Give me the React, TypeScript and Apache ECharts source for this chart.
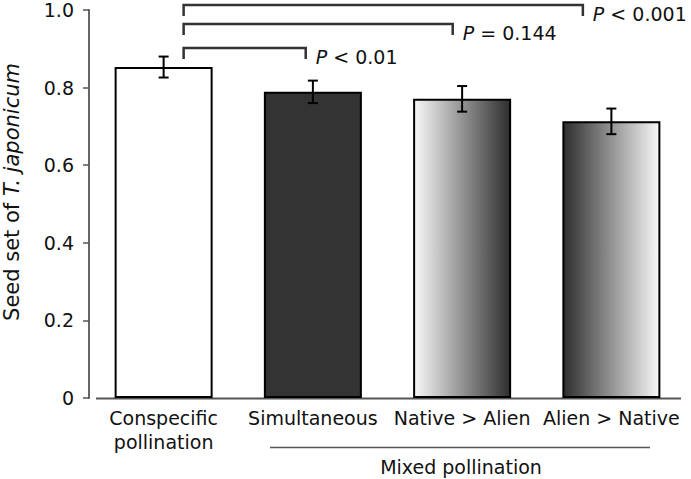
import React, { useEffect, useRef } from "react";
import * as echarts from "echarts";

const categories = ["Conspecific\npollination", "Simultaneous", "Native > Alien", "Alien > Native"];
const seedSet = [0.853, 0.789, 0.771, 0.713];
const seErr = [0.027, 0.029, 0.033, 0.033];

// significance brackets (x in category units, y in data units)
const bracketFrom = [0.134, 0.134, 0.134];
const bracketTo = [0.952, 1.937, 2.809];
const bracketY = [0.902, 0.964, 1.013];
const pTexts = ["< 0.01", "= 0.144", "< 0.001"];

const FONT = "DejaVu Sans";

function barFill(i: number): any {
  if (i === 0) return "#ffffff";
  if (i === 1) return "#333333";
  const light = "#f8f8f8";
  const dark = "#2e2e2e";
  const stops =
    i === 2
      ? [{ offset: 0, color: light }, { offset: 1, color: dark }]
      : [{ offset: 0, color: dark }, { offset: 1, color: light }];
  return new echarts.graphic.LinearGradient(0, 0, 1, 0, stops);
}

export default function App() {
  const ref = useRef<HTMLDivElement>(null);
  useEffect(() => {
    if (!ref.current) return;
    const chart = echarts.init(ref.current, null, { renderer: "svg" });
    const option: any = {
      animation: false,
      backgroundColor: "#fff",
      grid: { left: 89, right: 5, top: 10, bottom: 81, containLabel: false },
      xAxis: [
        {
          type: "category",
          data: categories,
          axisLine: { show: false },
          axisTick: { show: false },
          axisLabel: {
            interval: 0,
            margin: 8,
            fontFamily: FONT,
            fontSize: 19,
            lineHeight: 24,
            color: "#111",
          },
        },
        { type: "value", min: -0.5, max: 3.5, show: false },
      ],
      yAxis: {
        type: "value",
        min: 0,
        max: 1,
        interval: 0.2,
        axisLine: { show: true, onZero: false, lineStyle: { color: "#555", width: 1.8 } },
        axisTick: { show: true, length: 6, lineStyle: { color: "#555", width: 1.5 } },
        splitLine: { show: false },
        axisLabel: {
          margin: 15,
          fontFamily: FONT,
          fontSize: 19,
          color: "#111",
          formatter: (v: number) => (v === 0 ? "0" : v.toFixed(1)),
        },
      },
      series: [
        {
          type: "bar",
          barWidth: 98,
          data: seedSet.map((v, i) => ({
            value: v,
            itemStyle: { color: barFill(i), borderColor: "#000", borderWidth: 2 },
          })),
        },
        {
          type: "custom",
          xAxisIndex: 0,
          clip: false,
          data: seedSet.map((v, i) => [i, v - seErr[i], v + seErr[i]]),
          renderItem: (params: any, api: any) => {
            const lo = api.coord([api.value(0), api.value(1)]);
            const hi = api.coord([api.value(0), api.value(2)]);
            const x = lo[0];
            const w = 5;
            return {
              type: "group",
              children: [
                { type: "line", shape: { x1: x, y1: lo[1], x2: x, y2: hi[1] }, style: { stroke: "#000", lineWidth: 2 } },
                { type: "line", shape: { x1: x - w, y1: lo[1], x2: x + w, y2: lo[1] }, style: { stroke: "#000", lineWidth: 2 } },
                { type: "line", shape: { x1: x - w, y1: hi[1], x2: x + w, y2: hi[1] }, style: { stroke: "#000", lineWidth: 2 } },
              ],
            };
          },
          z: 5,
        },
        {
          type: "custom",
          xAxisIndex: 1,
          clip: false,
          data: bracketFrom.map((f, i) => [f, bracketTo[i], bracketY[i]]),
          renderItem: (params: any, api: any) => {
            const p1 = api.coord([api.value(0), api.value(2)]);
            const p2 = api.coord([api.value(1), api.value(2)]);
            const drop = 11;
            return {
              type: "group",
              children: [
                {
                  type: "polyline",
                  shape: {
                    points: [
                      [p1[0], p1[1] + drop],
                      [p1[0], p1[1]],
                      [p2[0], p2[1]],
                      [p2[0], p2[1] + drop],
                    ],
                  },
                  style: { stroke: "#333", lineWidth: 2.5, fill: null },
                },
                {
                  type: "text",
                  x: p2[0] + 10,
                  y: p2[1] + 9,
                  style: {
                    text: "{p|P} " + pTexts[params.dataIndex],
                    fontFamily: FONT,
                    fontSize: 19,
                    fill: "#111",
                    verticalAlign: "middle",
                    align: "left",
                    rich: { p: { fontStyle: "italic", fontFamily: FONT, fontSize: 19, fill: "#111" } },
                  },
                },
              ],
            };
          },
          z: 6,
        },
      ],
      graphic: [
        {
          type: "line",
          shape: { x1: 96, y1: 398.5, x2: 681, y2: 398.5 },
          style: { stroke: "#555", lineWidth: 1.8 },
        },
        {
          type: "line",
          shape: { x1: 270, y1: 447.5, x2: 650, y2: 447.5 },
          style: { stroke: "#555", lineWidth: 1.5 },
        },
        {
          type: "text",
          x: 461,
          y: 467,
          style: {
            text: "Mixed pollination",
            fontFamily: FONT,
            fontSize: 19,
            fill: "#111",
            align: "center",
            verticalAlign: "middle",
          },
        },
        {
          type: "text",
          x: 12,
          y: 192,
          rotation: Math.PI / 2,
          style: {
            text: "Seed set of {i|T. japonicum}",
            fontFamily: FONT,
            fontSize: 21,
            fill: "#111",
            align: "center",
            verticalAlign: "middle",
            rich: { i: { fontStyle: "italic", fontFamily: FONT, fontSize: 21, fill: "#111" } },
          },
        },
      ],
    };
    chart.setOption(option);
    return () => chart.dispose();
  }, []);
  return <div ref={ref} style={{ width: 691, height: 479, position: "absolute", left: 0, top: 0 }} />;
}
